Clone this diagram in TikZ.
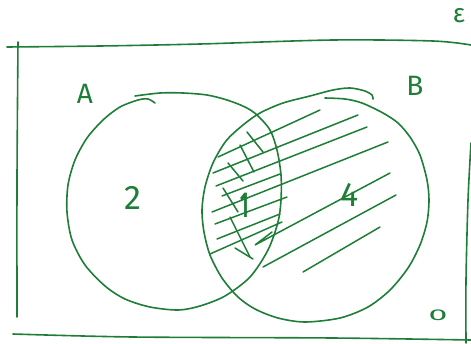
\documentclass[tikz,border=0pt]{standalone}
\usepackage{fontspec}
\setsansfont{Fira Sans}
\definecolor{pen}{RGB}{30,125,55}
\begin{document}
\begin{tikzpicture}[x=1pt,y=-1pt,
  stroke/.style={draw=pen,line width=1.6pt,line cap=round,line join=round},
  hatch/.style={draw=pen,line width=1.5pt,line cap=round},
  lbl/.style={text=pen,font=\sffamily\fontsize{#1}{#1}\selectfont,inner sep=0pt},
  lbl/.default=30]
\useasboundingbox (0,0) rectangle (471,343);
% universal set frame
\draw[stroke] plot[smooth] coordinates {(7,47) (100,46) (200,44) (333,40) (433,41) (471,45)};
\draw[stroke] plot[smooth] coordinates {(18,42) (17,180) (17,317)};
\draw[stroke] plot[smooth] coordinates {(13,334) (133,337) (333,338) (471,340)};
\draw[stroke] plot[smooth] coordinates {(471,143) (468,200) (466,280) (466,343)};
% set A
\draw[stroke] plot[smooth] coordinates {(135,96) (160,93) (183,93) (207,95) (227,100) (245,107) (257,115) (270,130) (277,150) (281,175) (281,200) (278,222) (268,250) (250,277) (225,296) (200,306) (178,310) (150,307) (125,299) (105,286) (85,265) (72,240) (67,212) (68,185) (75,160) (87,138) (103,120) (120,107) (138,100) (148,99) (155,103)};
% set B
\draw[stroke] plot[smooth] coordinates {(325,98) (345,99) (362,103) (383,113) (398,123) (410,137) (420,155) (427,180) (429,200) (427,222) (420,245) (408,268) (390,290) (368,307) (340,318) (305,322) (278,318) (255,309) (238,297) (222,278) (210,255) (204,232) (202,210) (205,187) (213,163) (226,141) (243,125) (260,113) (283,103) (310,96) (333,90) (350,88) (365,91) (372,95) (373,99)};
% hatching of B
\coordinate (h1a) at (218,157); \coordinate (h1b) at (320,110);
\coordinate (h2a) at (213,173); \coordinate (h2b) at (358,115);
\coordinate (h3a) at (216,186); \coordinate (h3b) at (367,127);
\coordinate (h4a) at (212,212); \coordinate (h4b) at (388,142);
\coordinate (h5a) at (222,196); \coordinate (h5b) at (280,174);
\coordinate (h6a) at (215,224); \coordinate (h6b) at (287,197);
\coordinate (h7a) at (217,239); \coordinate (h7b) at (280,214);
\coordinate (h8a) at (210,254); \coordinate (h8b) at (282,222);
\coordinate (h9a) at (255,245); \coordinate (h9b) at (390,173);
\coordinate (h9c) at (272,232);
\coordinate (h10a) at (263,267); \coordinate (h10b) at (396,195);
\coordinate (h11a) at (303,272); \coordinate (h11b) at (380,227);
\foreach \i in {1,...,8,10,11} \draw[hatch] (h\i a) -- (h\i b);
\draw[hatch] (h9b) -- (h9a) -- (h9c);
% cross hatching of A and B
\coordinate (c1a) at (247,132); \coordinate (c1b) at (263,152);
\coordinate (c2a) at (240,145); \coordinate (c2b) at (254,172);
\coordinate (c3a) at (228,163); \coordinate (c3b) at (243,181);
\coordinate (c4a) at (223,188); \coordinate (c4b) at (238,212);
\coordinate (c5a) at (230,217); \coordinate (c5b) at (250,257);
\coordinate (c6a) at (235,248); \coordinate (c6b) at (253,259);
\foreach \i in {1,...,6} \draw[hatch] (c\i a) -- (c\i b);
% labels
\node[lbl=28] (la) at (85,94) {A};
\node[lbl=28] (lb) at (415,86) {B};
\node[lbl=34] (n2) at (133,198) {2};
\node[lbl=34] (n4) at (350,195) {4};
\node[text=pen,inner sep=0pt,font=\sffamily\bfseries\fontsize{36}{36}\selectfont,xscale=0.5] (n1) at (245,205) {1};
\node[lbl=26,xscale=1.3,yscale=0.6] (n0) at (438,315) {0};
\node[lbl=26] (eps) at (459,16) {ε};
\end{tikzpicture}
\end{document}
